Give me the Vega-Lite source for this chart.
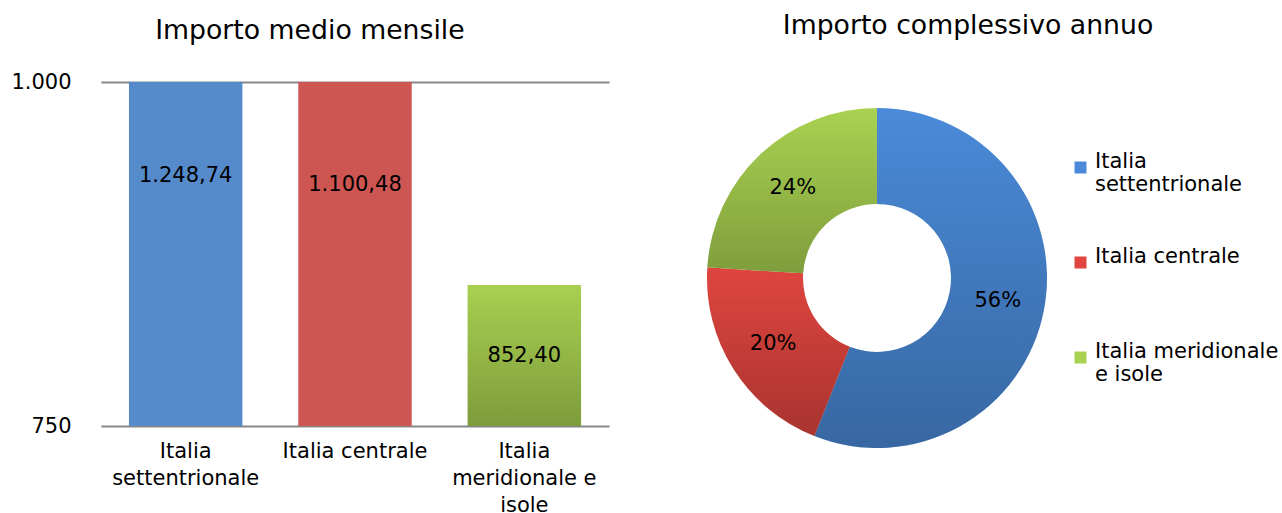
{
  "$schema": "https://vega.github.io/schema/vega-lite/v6.json",
  "background": "white",
  "padding": {"left": 10, "top": 13, "right": 0, "bottom": 0},
  "spacing": 98,
  "config": {
    "view": {"stroke": null},
    "font": "DejaVu Sans",
    "locale": {"number": {"decimal": ",", "thousands": ".", "grouping": [3], "currency": ["€", ""]}},
    "title": {"fontSize": 26.7, "fontWeight": "normal", "color": "#000000", "font": "DejaVu Sans"}
  },
  "resolve": {"scale": {"color": "independent"}},
  "hconcat": [
    {
      "width": 508,
      "height": 344,
      "title": {"text": "Importo medio mensile", "frame": "bounds", "offset": 26},
      "data": {"values": [
        {"area": "Italia settentrionale", "importo": 1248.74},
        {"area": "Italia centrale", "importo": 1100.48},
        {"area": "Italia meridionale e isole", "importo": 852.40}
      ]},
      "transform": [{"calculate": "min((750 + datum.importo) / 2, 932)", "as": "pos_label"}],
      "encoding": {
        "x": {
          "field": "area", "type": "nominal", "sort": null,
          "scale": {"paddingInner": 0.33, "paddingOuter": 0.165},
          "axis": {
            "title": null, "domain": false, "ticks": false, "labelAngle": 0,
            "labelFontSize": 21, "labelColor": "#000000", "labelPadding": 14,
            "labelLineHeight": 27, "labelBaseline": "top", "labelLimit": 0,
            "labelExpr": "datum.value == 'Italia settentrionale' ? ['Italia','settentrionale'] : datum.value == 'Italia meridionale e isole' ? ['Italia','meridionale e','isole'] : datum.value"
          }
        }
      },
      "layer": [
        {
          "mark": {"type": "bar"},
          "encoding": {
            "y": {
              "field": "importo", "type": "quantitative",
              "scale": {"domain": [750, 1000], "clamp": true, "zero": false, "nice": false},
              "axis": {
                "title": null, "values": [750, 1000], "format": ",d", "domain": false, "ticks": false,
                "grid": true, "gridColor": "#878787", "gridWidth": 2,
                "labelFontSize": 21, "labelColor": "#000000", "labelPadding": 30
              }
            },
            "y2": {"datum": 750},
            "color": {
              "field": "area", "type": "nominal",
              "scale": {"domain": ["Italia settentrionale", "Italia centrale", "Italia meridionale e isole"], "range": ["#558ACB", "#CD5653", "#A8D050"]},
              "legend": null
            }
          }
        },
        {
          "transform": [{"filter": "datum.area == 'Italia meridionale e isole'"}],
          "mark": {"type": "bar", "fill": {"gradient": "linear", "x1": 0, "y1": 0, "x2": 0, "y2": 1, "stops": [{"offset": 0, "color": "rgba(0,0,0,0)"}, {"offset": 1, "color": "rgba(0,0,0,0.25)"}]}},
          "encoding": {
            "y": {"field": "importo", "type": "quantitative"},
            "y2": {"datum": 750}
          }
        },
        {
          "mark": {"type": "text", "fontSize": 21, "color": "#000000"},
          "encoding": {
            "y": {"field": "pos_label", "type": "quantitative"},
            "text": {"field": "importo", "type": "quantitative", "format": ",.2f"}
          }
        }
      ]
    },
    {
      "width": 340,
      "height": 392,
      "title": {"text": "Importo complessivo annuo", "frame": "group", "dx": 91, "offset": 42},
      "data": {"values": [
        {"area": "Italia settentrionale", "quota": 56, "ord": 1},
        {"area": "Italia centrale", "quota": 20, "ord": 2},
        {"area": "Italia meridionale e isole", "quota": 24, "ord": 3}
      ]},
      "transform": [{"calculate": "datum.quota + '%'", "as": "etichetta"}],
      "encoding": {
        "theta": {"field": "quota", "type": "quantitative", "stack": true},
        "order": {"field": "ord", "type": "quantitative"}
      },
      "layer": [
        {
          "mark": {"type": "arc", "outerRadius": 170, "innerRadius": 74},
          "encoding": {
            "color": {
              "field": "area", "type": "nominal",
              "scale": {"domain": ["Italia settentrionale", "Italia centrale", "Italia meridionale e isole"], "range": ["#4A8AD8", "#E0453F", "#A9D251"]},
              "legend": {
                "title": null, "orient": "none", "legendX": 363, "legendY": 75,
                "symbolType": "square", "symbolSize": 144, "symbolStrokeWidth": 0,
                "labelFontSize": 21, "labelColor": "#000000", "labelOffset": 4, "labelLimit": 0,
                "rowPadding": 50, "labelBaseline": "alphabetic",
                "labelExpr": "datum.label == 'Italia settentrionale' ? ['Italia','settentrionale'] : datum.label == 'Italia meridionale e isole' ? ['Italia meridionale','e isole'] : ['Italia centrale', ' ']"
              }
            }
          }
        },
        {
          "mark": {"type": "arc", "outerRadius": 170, "innerRadius": 74, "fill": {"gradient": "linear", "x1": 0, "y1": 0, "x2": 0, "y2": 1, "stops": [{"offset": 0, "color": "rgba(0,0,0,0)"}, {"offset": 1, "color": "rgba(0,0,0,0.25)"}]}},
          "encoding": {}
        },
        {
          "mark": {"type": "text", "radius": 123, "fontSize": 21, "color": "#000000"},
          "encoding": {"text": {"field": "etichetta", "type": "nominal"}}
        }
      ]
    }
  ]
}
